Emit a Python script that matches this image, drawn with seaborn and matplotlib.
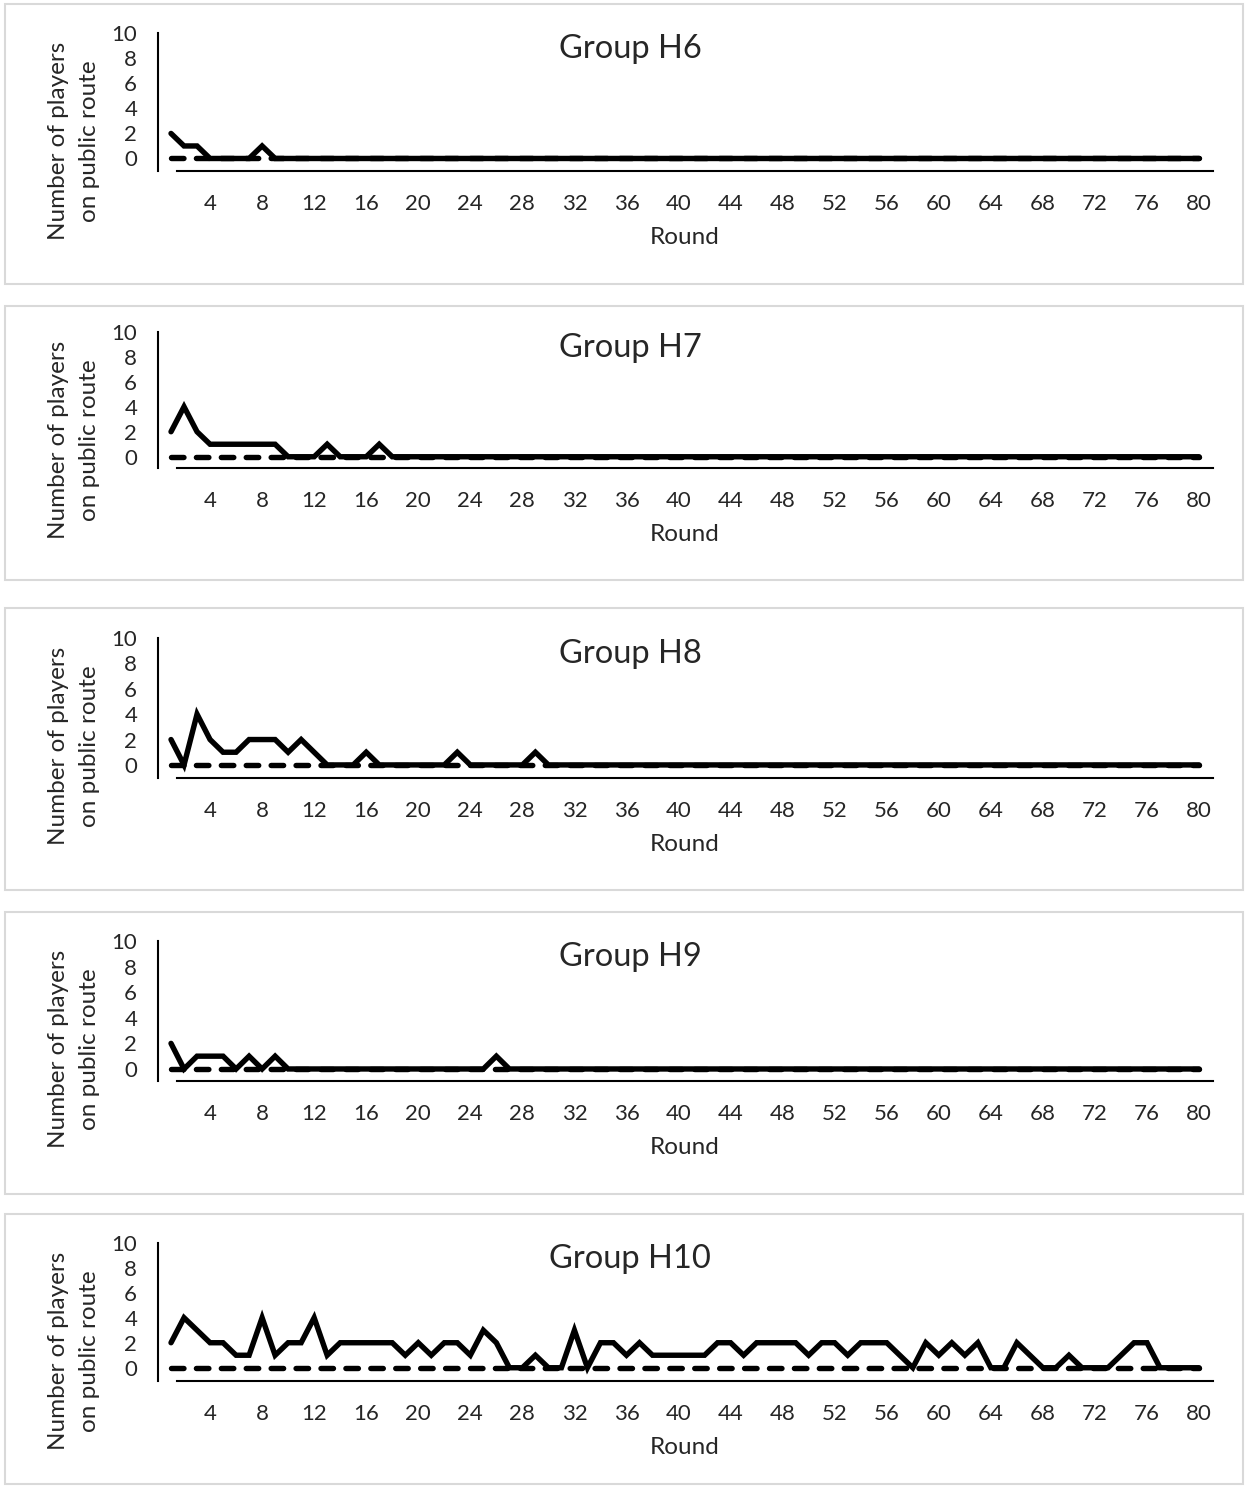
import numpy as np
import pandas as pd
import seaborn as sns
import matplotlib
matplotlib.use("Agg")
import matplotlib.pyplot as plt
from matplotlib.patches import Rectangle

# Rounds of the game and number of players on the public route per group
rounds = list(range(1, 81))
group_names = ["Group H6", "Group H7", "Group H8", "Group H9", "Group H10"]

h6 = [2, 1, 1, 0, 0, 0, 0, 1, 0, 0, 0, 0, 0, 0, 0, 0, 0, 0, 0, 0,
      0, 0, 0, 0, 0, 0, 0, 0, 0, 0, 0, 0, 0, 0, 0, 0, 0, 0, 0, 0,
      0, 0, 0, 0, 0, 0, 0, 0, 0, 0, 0, 0, 0, 0, 0, 0, 0, 0, 0, 0,
      0, 0, 0, 0, 0, 0, 0, 0, 0, 0, 0, 0, 0, 0, 0, 0, 0, 0, 0, 0]
h7 = [2, 4, 2, 1, 1, 1, 1, 1, 1, 0, 0, 0, 1, 0, 0, 0, 1, 0, 0, 0,
      0, 0, 0, 0, 0, 0, 0, 0, 0, 0, 0, 0, 0, 0, 0, 0, 0, 0, 0, 0,
      0, 0, 0, 0, 0, 0, 0, 0, 0, 0, 0, 0, 0, 0, 0, 0, 0, 0, 0, 0,
      0, 0, 0, 0, 0, 0, 0, 0, 0, 0, 0, 0, 0, 0, 0, 0, 0, 0, 0, 0]
h8 = [2, 0, 4, 2, 1, 1, 2, 2, 2, 1, 2, 1, 0, 0, 0, 1, 0, 0, 0, 0,
      0, 0, 1, 0, 0, 0, 0, 0, 1, 0, 0, 0, 0, 0, 0, 0, 0, 0, 0, 0,
      0, 0, 0, 0, 0, 0, 0, 0, 0, 0, 0, 0, 0, 0, 0, 0, 0, 0, 0, 0,
      0, 0, 0, 0, 0, 0, 0, 0, 0, 0, 0, 0, 0, 0, 0, 0, 0, 0, 0, 0]
h9 = [2, 0, 1, 1, 1, 0, 1, 0, 1, 0, 0, 0, 0, 0, 0, 0, 0, 0, 0, 0,
      0, 0, 0, 0, 0, 1, 0, 0, 0, 0, 0, 0, 0, 0, 0, 0, 0, 0, 0, 0,
      0, 0, 0, 0, 0, 0, 0, 0, 0, 0, 0, 0, 0, 0, 0, 0, 0, 0, 0, 0,
      0, 0, 0, 0, 0, 0, 0, 0, 0, 0, 0, 0, 0, 0, 0, 0, 0, 0, 0, 0]
h10 = [2, 4, 3, 2, 2, 1, 1, 4, 1, 2, 2, 4, 1, 2, 2, 2, 2, 2, 1, 2,
       1, 2, 2, 1, 3, 2, 0, 0, 1, 0, 0, 3, 0, 2, 2, 1, 2, 1, 1, 1,
       1, 1, 2, 2, 1, 2, 2, 2, 2, 1, 2, 2, 1, 2, 2, 2, 1, 0, 2, 1,
       2, 1, 2, 0, 0, 2, 1, 0, 0, 1, 0, 0, 0, 1, 2, 2, 0, 0, 0, 0]
# Equilibrium number of players on the public route
equilibrium = [0, 0, 0, 0, 0, 0, 0, 0, 0, 0, 0, 0, 0, 0, 0, 0, 0, 0, 0, 0,
               0, 0, 0, 0, 0, 0, 0, 0, 0, 0, 0, 0, 0, 0, 0, 0, 0, 0, 0, 0,
               0, 0, 0, 0, 0, 0, 0, 0, 0, 0, 0, 0, 0, 0, 0, 0, 0, 0, 0, 0,
               0, 0, 0, 0, 0, 0, 0, 0, 0, 0, 0, 0, 0, 0, 0, 0, 0, 0, 0, 0]
y_ticks = [0, 2, 4, 6, 8, 10]
x_ticks = list(range(4, 81, 4))

series = [h6, h7, h8, h9, h10]

sns.set_style("white")
plt.rcParams["font.family"] = ["Lato", "DejaVu Sans"]

W, H = 1247, 1488
fig = plt.figure(figsize=(W / 100, H / 100), dpi=100)

# panel layout in pixels: frame box, axes top, axes bottom, lower y limit
panels = [
    dict(box=(5, 4, 1243, 284), top=33.3, bottom=171.0, ymin=-1.00),
    dict(box=(5, 306, 1243, 580), top=331.7, bottom=468.0, ymin=-0.90),
    dict(box=(5, 608, 1243, 890), top=638.0, bottom=778.0, ymin=-1.03),
    dict(box=(5, 912, 1243, 1194), top=941.0, bottom=1081.0, ymin=-0.94),
    dict(box=(5, 1214, 1243, 1484), top=1242.7, bottom=1381.0, ymin=-1.06),
]

ax_left, ax_right = 158, 1213
x_max = 81.07

for name, vals, p in zip(group_names, series, panels):
    bx0, by0, bx1, by1 = p["box"]
    fig.patches.append(Rectangle((bx0 / W, 1 - by1 / H), (bx1 - bx0) / W, (by1 - by0) / H,
                                 transform=fig.transFigure, fill=False,
                                 edgecolor="#d9d9d9", linewidth=1.5, zorder=0))

    ax = fig.add_axes([ax_left / W, 1 - p["bottom"] / H,
                       (ax_right - ax_left) / W, (p["bottom"] - p["top"]) / H])
    df = pd.DataFrame({"Round": rounds, "Players": vals, "Equilibrium": equilibrium})

    sns.lineplot(data=df, x="Round", y="Equilibrium", ax=ax, color="black",
                 linewidth=3.9, linestyle=(0, (2.3, 2.3)), dash_capstyle="round")
    sns.lineplot(data=df, x="Round", y="Players", ax=ax, color="black",
                 linewidth=3.9, solid_capstyle="round", solid_joinstyle="miter")

    ax.set_xlim(0, x_max)
    ax.set_ylim(p["ymin"], 10)
    ax.set_xticks(x_ticks)
    ax.set_yticks(y_ticks)
    ax.tick_params(axis="x", direction="in", length=8, width=1.3, pad=16.5, labelsize=16)
    ax.tick_params(axis="y", direction="in", length=7, width=1.3, pad=15, labelsize=16)
    for s in ["top", "right"]:
        ax.spines[s].set_visible(False)
    for s in ["left", "bottom"]:
        ax.spines[s].set_linewidth(1.5)
        ax.spines[s].set_color("black")
    ax.spines["bottom"].set_bounds(1.46, x_max)
    ax.set_xlabel("")
    ax.set_ylabel("")
    ax.patch.set_alpha(0)

    y10 = p["top"]
    fig.text(630 / W, 1 - (y10 + 25) / H, name, ha="center", va="baseline", fontsize=23.5)
    fig.text(74 / W, 1 - (y10 + 108) / H, "Number of players\non public route",
             rotation=90, ha="center", va="center", multialignment="center",
             fontsize=17.5, linespacing=1.55)
    fig.text((ax_left + 1211) / 2 / W, 1 - (p["bottom"] + 73) / H, "Round",
             ha="center", va="baseline", fontsize=17.5)

fig.savefig("out.png", dpi=100)
